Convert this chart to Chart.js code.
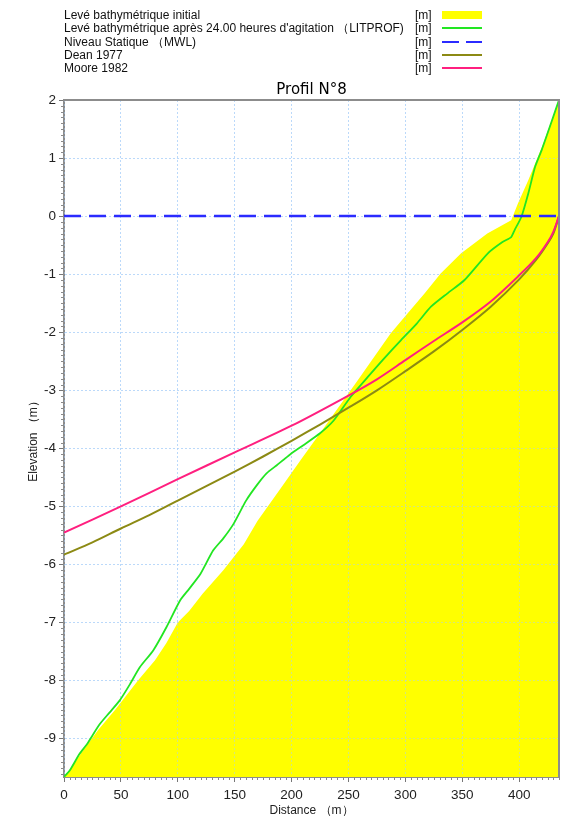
<!DOCTYPE html>
<html><head><meta charset="utf-8">
<script src="https://cdn.jsdelivr.net/npm/chart.js@4.4.1/dist/chart.umd.min.js"></script>
<style>
body{margin:0;background:#fff;}
#wrap{position:relative;width:568px;height:821px;overflow:hidden;font-family:"Liberation Sans",Arial,sans-serif;}
canvas{position:absolute;left:0;top:0;}
.row{position:absolute;left:64px;font-size:12px;line-height:14px;height:14px;color:#111;white-space:nowrap;}
.unit{position:absolute;left:415px;font-size:12px;line-height:14px;height:14px;color:#111;}
.sw{position:absolute;left:442px;width:40px;}
#title{position:absolute;left:64px;width:495px;top:80px;text-align:center;font-family:"DejaVu Sans",sans-serif;font-size:15px;line-height:18px;color:#000;}
</style></head>
<body><div id="wrap">
<canvas id="c" width="568" height="821"></canvas>
<div id="legend"></div>
<div id="title">Profil N°8</div>
</div>
<script>
// ---- data ----
const initialDist = [0,5,15,30,45,65,80,90,100,110,122,140,158,170,190,208,230,258,287,300,317,331,349,372,393,399,408,420,435];
const initialElev = [-9.66,-9.55,-9.25,-8.85,-8.5,-8.0,-7.65,-7.35,-7.0,-6.8,-6.5,-6.1,-5.65,-5.25,-4.7,-4.2,-3.6,-2.83,-2.02,-1.72,-1.33,-0.99,-0.64,-0.30,-0.07,0.22,0.62,1.19,2.0];

const litprofDist = [0,5,13.7,20,31,40,49,58,66.6,78.4,90,102,110,120,131,140,149,160,170,178,187,199,210,225,237,252,267,280,296,310,322.5,337,352,372.5,385,393,396,402,408,414,420,428,435];
const litprofElev = [-9.66,-9.55,-9.26,-9.10,-8.76,-8.55,-8.34,-8.06,-7.77,-7.48,-7.08,-6.62,-6.42,-6.16,-5.76,-5.55,-5.30,-4.90,-4.62,-4.43,-4.29,-4.10,-3.95,-3.74,-3.52,-3.11,-2.77,-2.48,-2.14,-1.85,-1.56,-1.33,-1.10,-0.64,-0.45,-0.36,-0.24,-0.01,0.39,0.85,1.15,1.60,2.0];

const mwlDist = [0,435];
const mwlElev = [0,0];

const deanDist = [0,25,50,75,100,125,150,175,200,225,250,275,300,325,350,375,400,415,425,430,435];
const deanElev = [-5.83,-5.62,-5.38,-5.15,-4.90,-4.65,-4.40,-4.14,-3.87,-3.59,-3.30,-3.00,-2.67,-2.33,-1.96,-1.56,-1.09,-0.75,-0.47,-0.30,0];

const mooreDist = [0,50,100,150,200,250,275,300,325,350,375,400,415,425,430,435];
const mooreElev = [-5.45,-5.00,-4.53,-4.07,-3.61,-3.09,-2.81,-2.48,-2.15,-1.83,-1.47,-1.02,-0.72,-0.45,-0.27,0];

const legendLabels = ["Levé bathymétrique initial","Levé bathymétrique après 24.00 heures d'agitation （LITPROF)","Niveau Statique （MWL)","Dean 1977","Moore 1982"];
const legendUnits = ["[m]","[m]","[m]","[m]","[m]"];
const xTitle = "Distance （m）";
const yTitle = "Elevation （m）";

const COLORS = {yellow:'#ffff00', green:'#22e622', blue:'#2b2bff', olive:'#8c8a14', pink:'#ff1f7f'};

function pts(xs, ys){ return xs.map((x,i)=>({x:x,y:ys[i]})); }

// ---- legend (HTML text) ----
const legend = document.getElementById('legend');
const rowY = [8,21.3,34.6,47.9,61.2];
const swatches = [
  'height:8px;background:'+COLORS.yellow+';margin-top:3px;',
  'height:0;border-top:2px solid '+COLORS.green+';margin-top:6px;',
  'height:2px;margin-top:6px;background:repeating-linear-gradient(90deg,'+COLORS.blue+' 0 17px,transparent 17px 24px);',
  'height:0;border-top:2px solid '+COLORS.olive+';margin-top:6px;',
  'height:0;border-top:2px solid '+COLORS.pink+';margin-top:6px;'
];
legendLabels.forEach((t,i)=>{
  const r=document.createElement('div'); r.className='row'; r.style.top=rowY[i]+'px'; r.textContent=t; legend.appendChild(r);
  const u=document.createElement('div'); u.className='unit'; u.style.top=rowY[i]+'px'; u.textContent=legendUnits[i]; legend.appendChild(u);
  const s=document.createElement('div'); s.className='sw'; s.style.cssText+='top:'+rowY[i]+'px;'+swatches[i]; legend.appendChild(s);
});

const FONT = "'Liberation Sans', Arial, sans-serif";
const GRID = 'rgba(165,205,250,0.5)';

const gridOverFill = {
  id:'gridOverFill',
  afterDatasetDraw(chart, args){
    if(args.index===0){
      chart.scales.x.drawGrid(chart.chartArea);
      chart.scales.y.drawGrid(chart.chartArea);
    }
  },
  afterDraw(chart){
    const ctx=chart.ctx, a=chart.chartArea, xs=chart.scales.x, ys=chart.scales.y;
    ctx.save();
    ctx.strokeStyle='#8a8a8a'; ctx.lineWidth=1;
    ctx.beginPath();
    for(let i=-96;i<=20;i++){
      if(i%10===0) continue;
      const p=Math.round(ys.getPixelForValue(i/10))+0.5;
      ctx.moveTo(a.left-3,p); ctx.lineTo(a.left,p);
    }
    for(let i=0;i<=87;i++){
      if(i%10===0) continue;
      const p=Math.round(xs.getPixelForValue(i*5))+0.5;
      ctx.moveTo(p,a.bottom); ctx.lineTo(p,a.bottom+3);
    }
    ctx.stroke();
    ctx.strokeStyle='#8c8c8c'; ctx.lineWidth=2;
    ctx.beginPath();
    ctx.moveTo(a.left,a.top); ctx.lineTo(a.right,a.top); ctx.lineTo(a.right,a.bottom);
    ctx.stroke();
    ctx.restore();
  }
};

new Chart(document.getElementById('c'), {
  type:'line',
  data:{datasets:[
    {label:legendLabels[0], data:pts(initialDist,initialElev), borderWidth:0, borderColor:COLORS.yellow, backgroundColor:COLORS.yellow, fill:'start', pointRadius:0, tension:0, order:10},
    {label:legendLabels[1], data:pts(litprofDist,litprofElev), borderWidth:1.8, borderColor:COLORS.green, fill:false, pointRadius:0, tension:0.2, order:4},
    {label:legendLabels[2], data:pts(mwlDist,mwlElev), borderWidth:2.5, borderColor:COLORS.blue, borderDash:[17,8], fill:false, pointRadius:0, order:0},
    {label:legendLabels[3], data:pts(deanDist,deanElev), borderWidth:2, borderColor:COLORS.olive, fill:false, pointRadius:0, tension:0.3, order:3},
    {label:legendLabels[4], data:pts(mooreDist,mooreElev), borderWidth:2, borderColor:COLORS.pink, fill:false, pointRadius:0, tension:0.3, order:2}
  ]},
  options:{
    responsive:false, animation:false, events:[],
    layout:{padding:{left:22,top:100,right:9,bottom:0}},
    plugins:{legend:{display:false},tooltip:{enabled:false},title:{display:false}},
    scales:{
      x:{type:'linear',min:0,max:435,
        ticks:{stepSize:50,includeBounds:false,color:'#222',font:{size:13.5,family:FONT},padding:5,maxRotation:0},
        grid:{color:GRID,tickColor:'#777',tickLength:5,lineWidth:1},
        border:{display:true,color:'#8c8c8c',width:2,dash:[2,2]},
        title:{display:true,text:xTitle,color:'#222',font:{size:12,family:FONT},padding:{top:0,bottom:3}},
        afterFit(s){s.height=44;}
      },
      y:{type:'linear',min:-9.66,max:2,
        ticks:{stepSize:1,includeBounds:false,color:'#222',font:{size:13.5,family:FONT},padding:3},
        grid:{color:GRID,tickColor:'#777',tickLength:5,lineWidth:1},
        border:{display:true,color:'#8c8c8c',width:2,dash:[2,2]},
        title:{display:true,text:yTitle,color:'#222',font:{size:12,family:FONT},padding:{top:4,bottom:0}},
        afterFit(s){s.width=42;}
      }
    }
  },
  plugins:[gridOverFill]
});
</script>
</body></html>
